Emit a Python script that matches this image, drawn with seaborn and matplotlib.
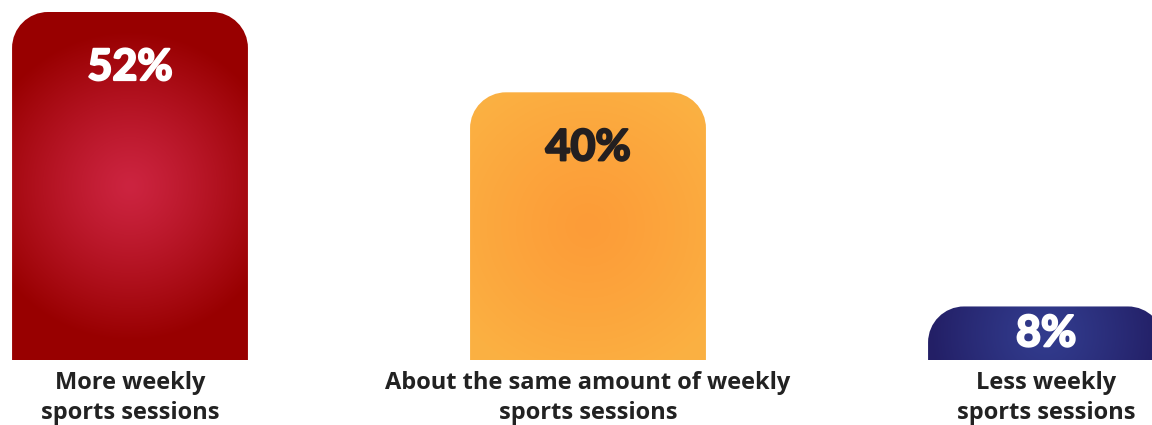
import numpy as np
import pandas as pd
import matplotlib
matplotlib.use("Agg")
import matplotlib.pyplot as plt
import matplotlib.patheffects as pe
import seaborn as sns
from matplotlib.path import Path
from matplotlib.patches import PathPatch
from matplotlib.colors import to_rgb

# Survey answers and their shares (%)
categories = [
    "More weekly\nsports sessions",
    "About the same amount of weekly\nsports sessions",
    "Less weekly\nsports sessions",
]
shares = [52, 40, 8]
value_labels = ["52%", "40%", "8%"]

# Radial gradient colours per bar (centre -> edge) and label colours
inner_colors = ["#cc2440", "#fd9c38", "#323c8e"]
outer_colors = ["#980000", "#fbb042", "#231f66"]
label_colors = ["#ffffff", "#231f20", "#ffffff"]

W, H, DPI = 1152, 425, 100
sns.set_style("white")

fig = plt.figure(figsize=(W / DPI, H / DPI), dpi=DPI)
ax_bottom_px, ax_height_px = 65, 348
ax = fig.add_axes([0, ax_bottom_px / H, 1, ax_height_px / H])

df = pd.DataFrame({"category": categories, "share": shares})
bar_width = 0.515
sns.barplot(data=df, x="category", y="share", ax=ax, width=bar_width,
            color="#cccccc", errorbar=None, saturation=1)

step_px = 458.0
first_center_px = 130.0
xlim = (-first_center_px / step_px, (W - first_center_px) / step_px)
ylim = (0, max(shares))

px_x = step_px                    # pixels per x data unit
px_y = ax_height_px / ylim[1]     # pixels per y data unit
corner_px = 36.0


def rounded_top_path(x0, x1, h, rx, ry):
    k = 0.5523
    verts = [
        (x0, 0), (x0, h - ry),
        (x0, h - ry + k * ry), (x0 + rx - k * rx, h), (x0 + rx, h),
        (x1 - rx, h),
        (x1 - rx + k * rx, h), (x1, h - ry + k * ry), (x1, h - ry),
        (x1, 0), (x0, 0),
    ]
    codes = [Path.MOVETO, Path.LINETO,
             Path.CURVE4, Path.CURVE4, Path.CURVE4,
             Path.LINETO,
             Path.CURVE4, Path.CURVE4, Path.CURVE4,
             Path.LINETO, Path.CLOSEPOLY]
    return Path(verts, codes)


bars = [p for p in ax.patches]
for i, patch in enumerate(bars):
    x0 = patch.get_x()
    w = patch.get_width()
    h = patch.get_height()
    x1 = x0 + w
    patch.set_visible(False)

    rx = corner_px / px_x
    ry = min(corner_px / px_y, h)
    shape = PathPatch(rounded_top_path(x0, x1, h, rx, ry),
                      facecolor="none", edgecolor="none", transform=ax.transData)
    ax.add_patch(shape)

    # radial gradient computed on the bar's pixel grid
    nx = max(int(round(w * px_x)), 2)
    ny = max(int(round(h * px_y)), 2)
    gx = np.arange(nx) - (nx - 1) / 2
    gy = np.arange(ny) - (ny - 1) / 2
    XX, YY = np.meshgrid(gx, gy)
    radius = 155.0 if h * px_y > 120 else 115.0
    t = np.clip(np.hypot(XX, YY) / radius, 0, 1) ** 1.2
    c_in = np.array(to_rgb(inner_colors[i]))
    c_out = np.array(to_rgb(outer_colors[i]))
    img = c_in[None, None, :] * (1 - t[..., None]) + c_out[None, None, :] * t[..., None]
    im = ax.imshow(img, extent=[x0, x1, 0, h], origin="lower",
                   aspect="auto", interpolation="bilinear", zorder=2)
    im.set_clip_path(shape)

    # value label near the top of the bar
    offset_px = min(55.0, h * px_y / 2)
    ax.text(x0 + w / 2, h - offset_px / px_y, value_labels[i],
            ha="center", va="center", color=label_colors[i],
            fontsize=31, fontweight="bold", family=["Lato", "DejaVu Sans"], zorder=3,
            path_effects=[pe.withStroke(linewidth=1.6, foreground=label_colors[i])])

ax.set_xlim(*xlim)
ax.set_ylim(*ylim)
ax.set_xlabel("")
ax.set_ylabel("")
ax.set_yticks([])
for s in ax.spines.values():
    s.set_visible(False)
ax.tick_params(axis="x", length=0, pad=8)
for lbl in ax.get_xticklabels():
    lbl.set_fontfamily(["Open Sans", "DejaVu Sans"])
    lbl.set_fontweight("bold")
    lbl.set_fontsize(17)
    lbl.set_color("#222222")
    lbl.set_linespacing(1.3)
    lbl.set_horizontalalignment("center")
    lbl.set_multialignment("center")

fig.savefig("out.png", dpi=DPI, facecolor="white")
